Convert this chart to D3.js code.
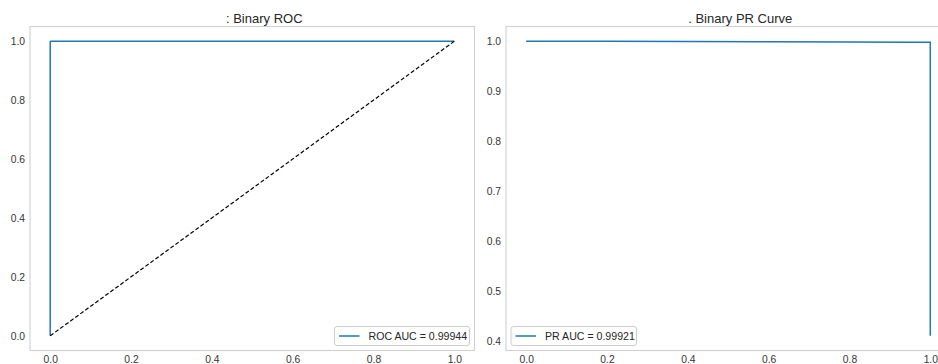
<!DOCTYPE html>
<html lang="en">
<head>
    <meta charset="UTF-8">
    <title>Binary ROC / PR</title>
    <style>
        body { margin: 0; background: #fff; }
        svg { display: block; font-family: "Liberation Sans", Arial, sans-serif; }
        .tick text { fill: #333; font-size: 10.3px; }
    </style>
</head>
<body>
    <svg width="938" height="364"></svg>
    <script src="https://d3js.org/d3.v7.min.js"></script>
<script>

// data
const rocFpr = [0.0, 0.0, 0.0006, 0.002, 1.0];
const rocTpr = [0.0, 0.9985, 0.9995, 1.0, 1.0];
const diagX = [0, 1];
const diagY = [0, 1];
const prRecall = [0.0, 0.2, 0.4, 0.6, 0.8, 0.95, 1.0, 1.0];
const prPrecision = [1.0, 0.9998, 0.9994, 0.999, 0.9986, 0.9982, 0.998, 0.41];
const xTicks = [0, 0.2, 0.4, 0.6, 0.8, 1.0];
const rocYTicks = [0, 0.2, 0.4, 0.6, 0.8, 1.0];
const prYTicks = [0.4, 0.5, 0.6, 0.7, 0.8, 0.9, 1.0];
const titles = [": Binary ROC", ". Binary PR Curve"];
const legendLabels = ["ROC AUC = 0.99944", "PR AUC = 0.99921"];

const svg = d3.select("svg");
const blue = "#1f77b4";
const plotW = 444.5, plotH = 324;
const plotTop = 26.5;
const lefts = [30, 506];

// matplotlib style 5% padding
function padded(vals) {
    const [lo, hi] = d3.extent(vals);
    const m = (hi - lo) * 0.05;
    return [lo - m, hi + m];
}

function panel(i, xVals, yVals, yTicks) {
    const x0 = lefts[i];
    const g = svg.append("g").attr("transform", `translate(${x0},${plotTop})`);
    const x = d3.scaleLinear().domain(padded(xVals)).range([0, plotW]);
    const y = d3.scaleLinear().domain(padded(yVals)).range([plotH, 0]);

    g.append("rect")
        .attr("width", plotW)
        .attr("height", plotH)
        .attr("fill", "none")
        .attr("stroke", "#d0d0d0")
        .attr("stroke-width", 1.1);

    g.append("g")
        .attr("transform", `translate(0,${plotH})`)
        .call(d3.axisBottom(x).tickValues(xTicks).tickFormat(d3.format(".1f")).tickSize(0).tickPadding(5))
        .call(a => a.select(".domain").remove());

    g.append("g")
        .call(d3.axisLeft(y).tickValues(yTicks).tickFormat(d3.format(".1f")).tickSize(0).tickPadding(5))
        .call(a => a.select(".domain").remove());

    svg.append("text")
        .attr("x", x0 + plotW / 2 + 12)
        .attr("y", 22.5)
        .attr("text-anchor", "middle")
        .attr("font-size", "13px")
        .attr("fill", "#262626")
        .text(titles[i]);

    return { g, x, y };
}

// ROC panel
const roc = panel(0, rocFpr.concat(diagX), rocTpr.concat(diagY), rocYTicks);
const rocLine = d3.line().x(d => roc.x(d[0])).y(d => roc.y(d[1]));
roc.g.append("path")
    .attr("d", rocLine(d3.zip(rocFpr, rocTpr)))
    .attr("fill", "none")
    .attr("stroke", blue)
    .attr("stroke-width", 1.5);
roc.g.append("path")
    .attr("d", rocLine(d3.zip(diagX, diagY)))
    .attr("fill", "none")
    .attr("stroke", "#000")
    .attr("stroke-width", 1.2)
    .attr("stroke-dasharray", "4,2.2");

// PR panel
const pr = panel(1, prRecall, prPrecision, prYTicks);
const prLine = d3.line().x(d => pr.x(d[0])).y(d => pr.y(d[1]));
pr.g.append("path")
    .attr("d", prLine(d3.zip(prRecall, prPrecision)))
    .attr("fill", "none")
    .attr("stroke", blue)
    .attr("stroke-width", 1.5);

// legends
function legend(p, label, side) {
    const h = 19, w = side === "right" ? 135 : 125.5;
    const lx = side === "right" ? plotW - 5 - w : 5;
    const ly = plotH - 5 - h;
    const lg = p.g.append("g").attr("transform", `translate(${lx},${ly})`);
    lg.append("rect")
        .attr("width", w).attr("height", h)
        .attr("rx", 2.5)
        .attr("fill", "#fff").attr("fill-opacity", 0.8)
        .attr("stroke", "#cccccc").attr("stroke-width", 1);
    lg.append("line")
        .attr("x1", 4.5).attr("x2", 25)
        .attr("y1", h / 2).attr("y2", h / 2)
        .attr("stroke", blue).attr("stroke-width", 1.5);
    lg.append("text")
        .attr("x", 34)
        .attr("y", h / 2)
        .attr("dy", "0.35em")
        .attr("font-size", "10.6px")
        .attr("fill", "#262626")
        .text(label);
}
legend(roc, legendLabels[0], "right");
legend(pr, legendLabels[1], "left");

</script>
</body>
</html>
